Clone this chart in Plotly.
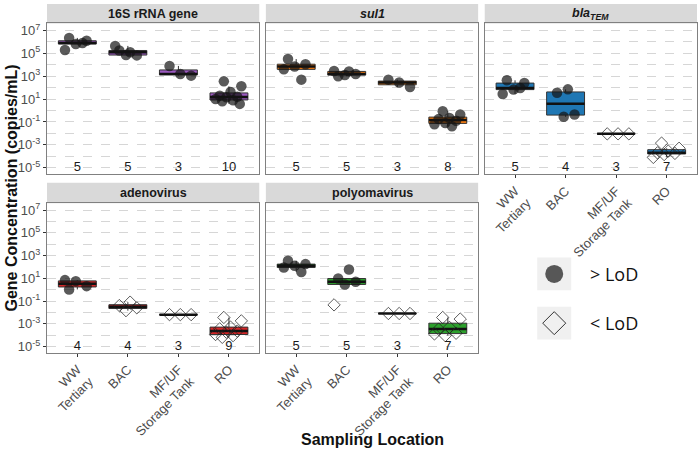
import numpy as np
import plotly.graph_objects as go

# ---------------- data (log10 copies/mL) ----------------
LOCATIONS = ["WW<br>Tertiary", "BAC", "MF/UF<br>Storage Tank", "RO"]
Y_TICK_EXP = [-5, -3, -1, 1, 3, 5, 7]
Y_MINOR_EXP = [-4, -2, 0, 2, 4, 6]

# values above LoD (filled circles)
s16_det = [[6.35, 6.1, 5.82, 5.3, 5.9],
           [5.1, 5.25, 4.82, 4.85, 5.65],
           [3.05, 3.2, 3.9],
           [2.55, 2.12, 1.62, 1.3, 1.2, 1.15, 1.0, 0.9, 0.8, 0.58]]
s16_lod = [[], [], [], []]

sul1_det = [[4.5, 4.05, 3.85, 3.6, 2.7],
            [3.42, 3.0, 3.2, 3.1, 3.45],
            [2.05, 2.45, 2.7],
            [-0.06, -0.35, -0.65, -0.75, -0.9, -1.1, -1.2, -1.37]]
sul1_lod = [[], [], [], []]

bla_det = [[2.64, 2.4, 1.83, 1.45, 1.97],
           [1.85, 1.55, -0.35, -0.55],
           [],
           []]
bla_lod = [[], [],
           [-2.04, -2.04, -2.04],
           [-2.85, -3.3, -3.55, -3.7, -3.75, -3.85, -4.1]]

adeno_det = [[0.02, 0.31, 0.75, 0.84], [], [], []]
adeno_lod = [[],
             [-1.1, -1.4, -1.6, -1.85],
             [-2.2, -2.2, -2.2],
             [-2.45, -2.75, -3.3, -3.45, -3.65, -3.75, -3.95, -4.05, -4.2]]

polyoma_det = [[2.55, 2.25, 2.1, 1.95, 1.56],
               [1.77, 0.98, 0.7, 0.46],
               [],
               []]
polyoma_lod = [[],
               [-1.34],
               [-2.1, -2.1, -2.1],
               [-2.45, -2.59, -3.32, -3.47, -3.84, -4.05, -3.9]]

PANEL_TITLES = ["<b>16S rRNA gene</b>", "<b><i>sul1</i></b>",
                "<b><i>bla<sub>TEM</sub></i></b>",
                "<b>adenovirus</b>", "<b>polyomavirus</b>"]
PANEL_DET = [s16_det, sul1_det, bla_det, adeno_det, polyoma_det]
PANEL_LOD = [s16_lod, sul1_lod, bla_lod, adeno_lod, polyoma_lod]
PANEL_COLORS = ["#9b59c0", "#ff7f0e", "#1f77b4", "#d62728", "#2ca02c"]

# ---------------- layout geometry (pixels) ----------------
W, H = 700, 454
ML, MR, MT, MB = 47, 2, 2, 101
PW, PH = W - ML - MR, H - MT - MB


def pxx(x):
    return (x - ML) / PW


def pyy(y):
    return (H - MB - y) / PH


COL_X = [(47, 259.6), (266.2, 478.8), (485.4, 698)]
ROW_PLOT = [(21.5, 173.3), (202.3, 353)]
ROW_STRIP = [(2, 21.5), (181.7, 202.3)]
POS = [(0, 0), (0, 1), (0, 2), (1, 0), (1, 1)]
YRANGE = [-5.58, 7.62]
BOX_W = 0.75

FONT = "Liberation Sans, Arial, sans-serif"
GRID = "#d6d6d6"

fig = go.Figure()


def jit(j, k):
    return (((j * 0.618 + 0.37 * k + 0.21) % 1.0) - 0.5) * 0.56


def box_stats(vals):
    v = np.sort(np.asarray(vals, dtype=float))
    q1, med, q3 = np.percentile(v, [25, 50, 75])
    iqr = q3 - q1
    lo = v[v >= q1 - 1.5 * iqr].min()
    hi = v[v <= q3 + 1.5 * iqr].max()
    return q1, med, q3, lo, hi


for i in range(5):
    ax = "" if i == 0 else str(i + 1)
    xa, ya = "x" + ax, "y" + ax
    det, lod, color = PANEL_DET[i], PANEL_LOD[i], PANEL_COLORS[i]

    bx, q1s, meds, q3s, los, his = [], [], [], [], [], []
    for k in range(4):
        vals = det[k] + lod[k]
        if not vals:
            continue
        q1, med, q3, lo, hi = box_stats(vals)
        bx.append(k + 1); q1s.append(q1); meds.append(med); q3s.append(q3)
        los.append(lo); his.append(hi)
    fig.add_trace(go.Box(
        x=bx, q1=q1s, median=meds, q3=q3s, lowerfence=los, upperfence=his,
        xaxis=xa, yaxis=ya, width=BOX_W, fillcolor=color,
        line=dict(color="#333333", width=1), whiskerwidth=0,
        boxpoints=False, showlegend=False, hoverinfo="skip"))

    # thick median bars
    mx, my = [], []
    for xk, med in zip(bx, meds):
        mx += [xk - BOX_W / 2, xk + BOX_W / 2, None]
        my += [med, med, None]
    fig.add_trace(go.Scatter(x=mx, y=my, xaxis=xa, yaxis=ya, mode="lines",
                             line=dict(color="#111111", width=2.5),
                             showlegend=False, hoverinfo="skip"))

    # points
    cx, cy, dx, dy = [], [], [], []
    for k in range(4):
        j = 0
        for v in det[k]:
            cx.append(k + 1 + jit(j, k)); cy.append(v); j += 1
        for v in lod[k]:
            dx.append(k + 1 + jit(j, k)); dy.append(v); j += 1
    fig.add_trace(go.Scatter(x=dx, y=dy, xaxis=xa, yaxis=ya, mode="markers",
                             marker=dict(symbol="diamond-open", size=9.5,
                                         color="rgba(30,30,30,0.8)",
                                         line=dict(width=0.9)),
                             showlegend=False, hoverinfo="skip"))
    fig.add_trace(go.Scatter(x=cx, y=cy, xaxis=xa, yaxis=ya, mode="markers",
                             marker=dict(symbol="circle", size=10.5,
                                         color="rgba(20,20,20,0.7)",
                                         line=dict(width=0)),
                             showlegend=False, hoverinfo="skip"))

    # sample counts
    counts = [len(det[k]) + len(lod[k]) for k in range(4)]
    fig.add_trace(go.Scatter(x=[1, 2, 3, 4], y=[Y_TICK_EXP[0]] * 4,
                             xaxis=xa, yaxis=ya, mode="text",
                             text=[str(c) for c in counts],
                             textfont=dict(family=FONT, size=13, color="#1a1a1a"),
                             showlegend=False, hoverinfo="skip"))

    r, c = POS[i]
    x0, x1 = COL_X[c]
    py0, py1 = ROW_PLOT[r]
    show_x = i in (2, 3, 4)
    show_y = c == 0
    fig.update_layout(**{
        "xaxis" + ax: dict(
            domain=[pxx(x0), pxx(x1)], anchor=ya, range=[0.4, 4.6],
            tickmode="array", tickvals=[1, 2, 3, 4], ticktext=LOCATIONS,
            showticklabels=show_x, ticks="outside" if show_x else "",
            ticklen=3, tickcolor="#333333", tickangle=-45,
            tickfont=dict(family=FONT, size=13, color="#4d4d4d"),
            showgrid=False, zeroline=False, showline=True, mirror=True,
            linecolor="#808080", linewidth=1),
        "yaxis" + ax: dict(
            domain=[pyy(py1), pyy(py0)], anchor=xa, range=YRANGE,
            tickmode="array", tickvals=Y_TICK_EXP,
            ticktext=["10<sup>%d</sup>" % e for e in Y_TICK_EXP],
            showticklabels=show_y, ticks="outside" if show_y else "",
            ticklen=3, tickcolor="#333333",
            tickfont=dict(family=FONT, size=13, color="#4d4d4d"),
            showgrid=True, gridcolor=GRID, griddash="dash", gridwidth=1,
            minor=dict(tickvals=Y_MINOR_EXP, showgrid=True, gridcolor=GRID,
                       griddash="dash", gridwidth=1, ticks=""),
            zeroline=False, showline=True, mirror=True,
            linecolor="#808080", linewidth=1),
    })

    # strip
    s0, s1 = ROW_STRIP[r]
    fig.add_shape(type="rect", xref="paper", yref="paper",
                  x0=pxx(x0), x1=pxx(x1), y0=pyy(s1), y1=pyy(s0),
                  fillcolor="#d9d9d9", line=dict(width=0), layer="below")
    fig.add_annotation(xref="paper", yref="paper", x=(pxx(x0) + pxx(x1)) / 2,
                       y=(pyy(s0) + pyy(s1)) / 2, text=PANEL_TITLES[i],
                       showarrow=False, xanchor="center", yanchor="middle",
                       font=dict(family=FONT, size=12.5, color="#1a1a1a"))

# axis titles
fig.add_annotation(xref="paper", yref="paper", x=pxx(11), y=pyy(187.5),
                   text="<b>Gene Concentration (copies/mL)</b>", textangle=-90,
                   showarrow=False, xanchor="center", yanchor="middle",
                   font=dict(family=FONT, size=16, color="#111111"))
fig.add_annotation(xref="paper", yref="paper", x=pxx(372.5), y=pyy(440),
                   text="<b>Sampling Location</b>",
                   showarrow=False, xanchor="center", yanchor="middle",
                   font=dict(family=FONT, size=16, color="#111111"))

# legend (key boxes + symbols + labels)
LEG_FONT = "Open Sans, Noto Sans, sans-serif"
for (yc, label, sym) in [(273.5, "&gt; LoD", "circle"), (323, "&lt; LoD", "diamond")]:
    fig.add_shape(type="rect", xref="paper", yref="paper",
                  x0=pxx(538), x1=pxx(572), y0=pyy(yc + 16.5), y1=pyy(yc - 16.5),
                  fillcolor="#f0f0f0", line=dict(width=0))
    if sym == "circle":
        fig.add_shape(type="circle", xref="paper", yref="paper",
                      xsizemode="pixel", ysizemode="pixel",
                      xanchor=pxx(555), yanchor=pyy(yc),
                      x0=-9, x1=9, y0=-9, y1=9,
                      fillcolor="#575757", line=dict(width=0))
    else:
        fig.add_shape(type="path", xref="paper", yref="paper",
                      xsizemode="pixel", ysizemode="pixel",
                      xanchor=pxx(555), yanchor=pyy(yc),
                      path="M 0 11.5 L 11.5 0 L 0 -11.5 L -11.5 0 Z",
                      fillcolor="rgba(0,0,0,0)",
                      line=dict(color="#333333", width=1))
    fig.add_annotation(xref="paper", yref="paper", x=pxx(589), y=pyy(yc),
                       text=label, showarrow=False, xanchor="left",
                       yanchor="middle",
                       font=dict(family=LEG_FONT, size=18, color="#111111"))

fig.update_layout(
    width=W, height=H,
    margin=dict(l=ML, r=MR, t=MT, b=MB),
    paper_bgcolor="white", plot_bgcolor="white",
    boxmode="overlay", showlegend=False,
    font=dict(family=FONT, color="#4d4d4d"),
)

fig.write_html("out.html",
               config={"displayModeBar": False},
               post_script="document.body.style.margin='0px';"
                           "document.body.style.padding='0px';"
                           "document.body.style.overflow='hidden';")
